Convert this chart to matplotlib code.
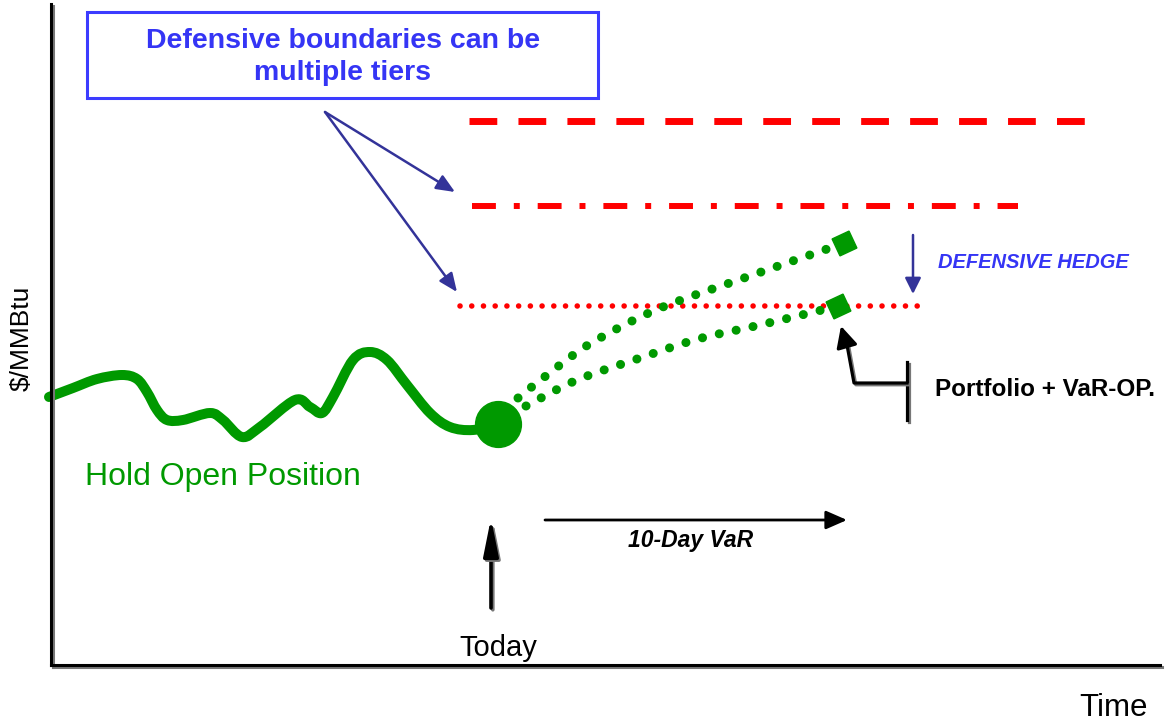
import numpy as np
import matplotlib
matplotlib.use('Agg')
import matplotlib.pyplot as plt
import matplotlib.patheffects as pe
from matplotlib.path import Path
from matplotlib.patches import PathPatch, Rectangle

plt.rcParams['font.family'] = ['Liberation Sans', 'DejaVu Sans']

# chart coordinates follow the picture: x to the right, y downwards
# price path up to today
hist_x = [49, 73, 97, 122, 137, 147, 157, 167, 183, 210, 223, 242, 260, 295, 310, 322,
          333, 353, 370, 387, 407, 430, 450, 473, 498]
hist_y = [397, 388, 379, 375, 379, 392, 410, 420, 420, 413, 420, 437, 427, 400, 407, 413,
          397, 360, 352, 360, 385, 413, 427, 430, 424]
today = (498, 424)

# two projected 10-day paths
up_x = [518, 556, 593, 658, 744, 830]
up_y = [398, 368, 342, 309, 278, 248]
up_end = (844, 243)
low_x = [526, 577, 640, 698, 760, 822]
low_y = [406, 380, 358, 339, 325, 310]
low_end = (838, 306)

# defensive boundaries (level, start, end)
tier_dashed = (121, 469, 1093)
tier_dashdot = (206, 472, 1018)
tier_dotted = (306, 460, 923)

GREEN = '#009900'
RED = '#ff0000'
BLUE_TXT = '#3535f5'
BLUE_ARR = '#333399'
shadow = [pe.SimpleLineShadow(offset=(1.3, -1.3), shadow_color='#777777', alpha=1.0), pe.Normal()]


def smooth(xs, ys):
    # catmull-rom through the read points, drawn as bezier segments
    pts = np.column_stack([xs, ys]).astype(float)
    ext = np.vstack([pts[0], pts, pts[-1]])
    verts = [pts[0]]
    codes = [Path.MOVETO]
    for i in range(1, len(ext) - 2):
        p0, p1, p2, p3 = ext[i - 1:i + 3]
        verts += [p1 + (p2 - p0) / 6, p2 - (p3 - p1) / 6, p2]
        codes += [Path.CURVE4] * 3
    return Path(verts, codes)


fig = plt.figure(figsize=(11.66, 7.21), dpi=100)
ax = fig.add_axes([51 / 1166, (721 - 665) / 721, (1160 - 51) / 1166, (665 - 4) / 721])
ax.set_xlim(51, 1160)
ax.set_ylim(665, 4)
ax.set_xticks([])
ax.set_yticks([])
for s in ['top', 'right']:
    ax.spines[s].set_visible(False)
for s in ['left', 'bottom']:
    ax.spines[s].set_linewidth(2.2)
    ax.spines[s].set_path_effects(shadow)

# history line and today's dot
ax.add_patch(PathPatch(smooth(hist_x, hist_y), fill=False, lw=7.2, color=GREEN,
                       capstyle='round', joinstyle='round', clip_on=False))
ax.plot(*today, 'o', ms=33, color=GREEN, zorder=5)

# projections
for xs, ys, end in [(up_x, up_y, up_end), (low_x, low_y, low_end)]:
    ax.add_patch(PathPatch(smooth(xs, ys), fill=False, lw=6.5, color=GREEN,
                           ls=(0, (0.01, 1.9)), capstyle='round', zorder=4))
    ax.plot(*end, marker=(4, 0, -20), ms=19, color=GREEN, zorder=5)

# boundary tiers
y, x0, x1 = tier_dashed
ax.plot([x0, x1], [y, y], color=RED, lw=5.0, ls=(0, (4, 3.05)), dash_capstyle='butt')
y, x0, x1 = tier_dashdot
ax.plot([x0, x1], [y, y], color=RED, lw=4.3, ls=(0, (4, 3, 1, 3)), dash_capstyle='butt')
y, x0, x1 = tier_dotted
ax.plot([x0, x1], [y, y], color=RED, lw=4.0, ls=(0, (0.01, 2.1)), dash_capstyle='round')

# callout box
ax.add_patch(Rectangle((87, 12), 511, 86, fill=False, ec='#3c3cff', lw=2.2, clip_on=False))
ax.text(343, 41, 'Defensive boundaries can be', ha='center', va='center',
        fontsize=20.5, fontweight='bold', color=BLUE_TXT)
ax.text(343, 73, 'multiple tiers', ha='center', va='center',
        fontsize=20.5, fontweight='bold', color=BLUE_TXT)
for tip in [(455, 192), (457, 292)]:
    ax.annotate('', xy=tip, xytext=(325, 112),
                arrowprops=dict(arrowstyle='-|>,head_length=0.7,head_width=0.3', lw=1.8,
                                color=BLUE_ARR, shrinkA=0, shrinkB=0, mutation_scale=16))

# defensive hedge
ax.annotate('', xy=(913, 294), xytext=(913, 235),
            arrowprops=dict(arrowstyle='-|>,head_length=0.6,head_width=0.3', lw=1.8,
                            color=BLUE_ARR, shrinkA=0, shrinkB=0, mutation_scale=16))
ax.text(938, 262, 'DEFENSIVE HEDGE', ha='left', va='center', fontsize=14.5,
        fontweight='bold', fontstyle='italic', color=BLUE_TXT)

# portfolio + VaR bracket
ax.plot([907, 907], [362, 420], color='black', lw=2.3, path_effects=shadow)
ax.plot([907, 854, 847], [383, 383, 345], color='black', lw=2.3, path_effects=shadow)
ax.annotate('', xy=(841, 326), xytext=(847, 347),
            arrowprops=dict(arrowstyle='-|>,head_length=0.8,head_width=0.4', lw=2.3,
                            color='black', shrinkA=0, shrinkB=0, mutation_scale=16))
ax.text(935, 389, 'Portfolio + VaR-OP.', ha='left', va='center', fontsize=17.5,
        fontweight='bold', color='black')

# today / 10-day markers
ax.annotate('', xy=(491, 518), xytext=(491, 608),
            arrowprops=dict(arrowstyle='-|>,head_length=1.4,head_width=0.28', lw=2.6,
                            color='black', shrinkA=0, shrinkB=0, mutation_scale=16,
                            path_effects=shadow))
ax.annotate('', xy=(847, 520), xytext=(545, 520),
            arrowprops=dict(arrowstyle='-|>,head_length=0.8,head_width=0.35', lw=2.0,
                            color='black', shrinkA=0, shrinkB=0, mutation_scale=16))
ax.text(691, 547, '10-Day VaR', ha='center', va='baseline', fontsize=16.5,
        fontweight='bold', fontstyle='italic', color='black')

ax.text(85, 477, 'Hold Open Position', ha='left', va='center', fontsize=23, color=GREEN)
ax.text(498, 656, 'Today', ha='center', va='baseline', fontsize=21)
ax.text(1114, 716, 'Time', ha='center', va='baseline', fontsize=22.5, clip_on=False)
ax.text(22, 338, '$/MMBtu', ha='center', va='center', rotation=90, fontsize=19,
        clip_on=False)

fig.savefig('out.png', dpi=100)
